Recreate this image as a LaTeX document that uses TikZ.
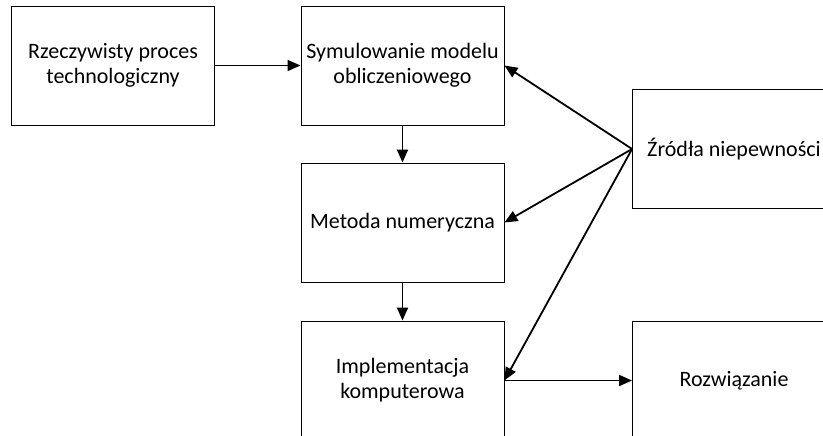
\documentclass[tikz,border=0pt]{standalone}
\usepackage{fontspec}
\setmainfont{Carlito}
\usetikzlibrary{arrows.meta}

\begin{document}
\begin{tikzpicture}[x=1pt, y=-1pt,
  every node/.style={draw, line width=0.9pt, minimum width=203pt, minimum height=119pt, align=center, font=\fontsize{22}{25}\selectfont},
  arr/.style={line width=1.8pt, -{Triangle[length=13pt, width=11pt]}}]
  \useasboundingbox (0,0) rectangle (823,436);
  \clip (0,0) rectangle (823,436);

  % Boxes (centres in pixels, y goes down)
  \node (proc)   at (113,65.5)   {Rzeczywisty proces\\technologiczny};
  \node (model)  at (402.5,65.5) {Symulowanie modelu\\obliczeniowego};
  \node (metoda) at (402.5,222.5) {Metoda numeryczna};
  \node (impl)   at (402.5,380.5) {Implementacja\\komputerowa};
  \node (zrodla) at (734,149)    {Źródła niepewności};
  \node (wynik)  at (734,380.5)  {Rozwiązanie};

  % Main chain
  \draw[arr] (proc) -- (model);
  \draw[arr] (model) -- (metoda);
  \draw[arr] (metoda) -- (impl);
  \draw[arr] (impl) -- (wynik);

  % Uncertainty arrows
  \draw[arr] (zrodla.west) -- (model.east);
  \draw[arr] (zrodla.west) -- (metoda.east);
  \draw[arr] (zrodla.west) -- (impl.east);

\end{tikzpicture}
\end{document}
